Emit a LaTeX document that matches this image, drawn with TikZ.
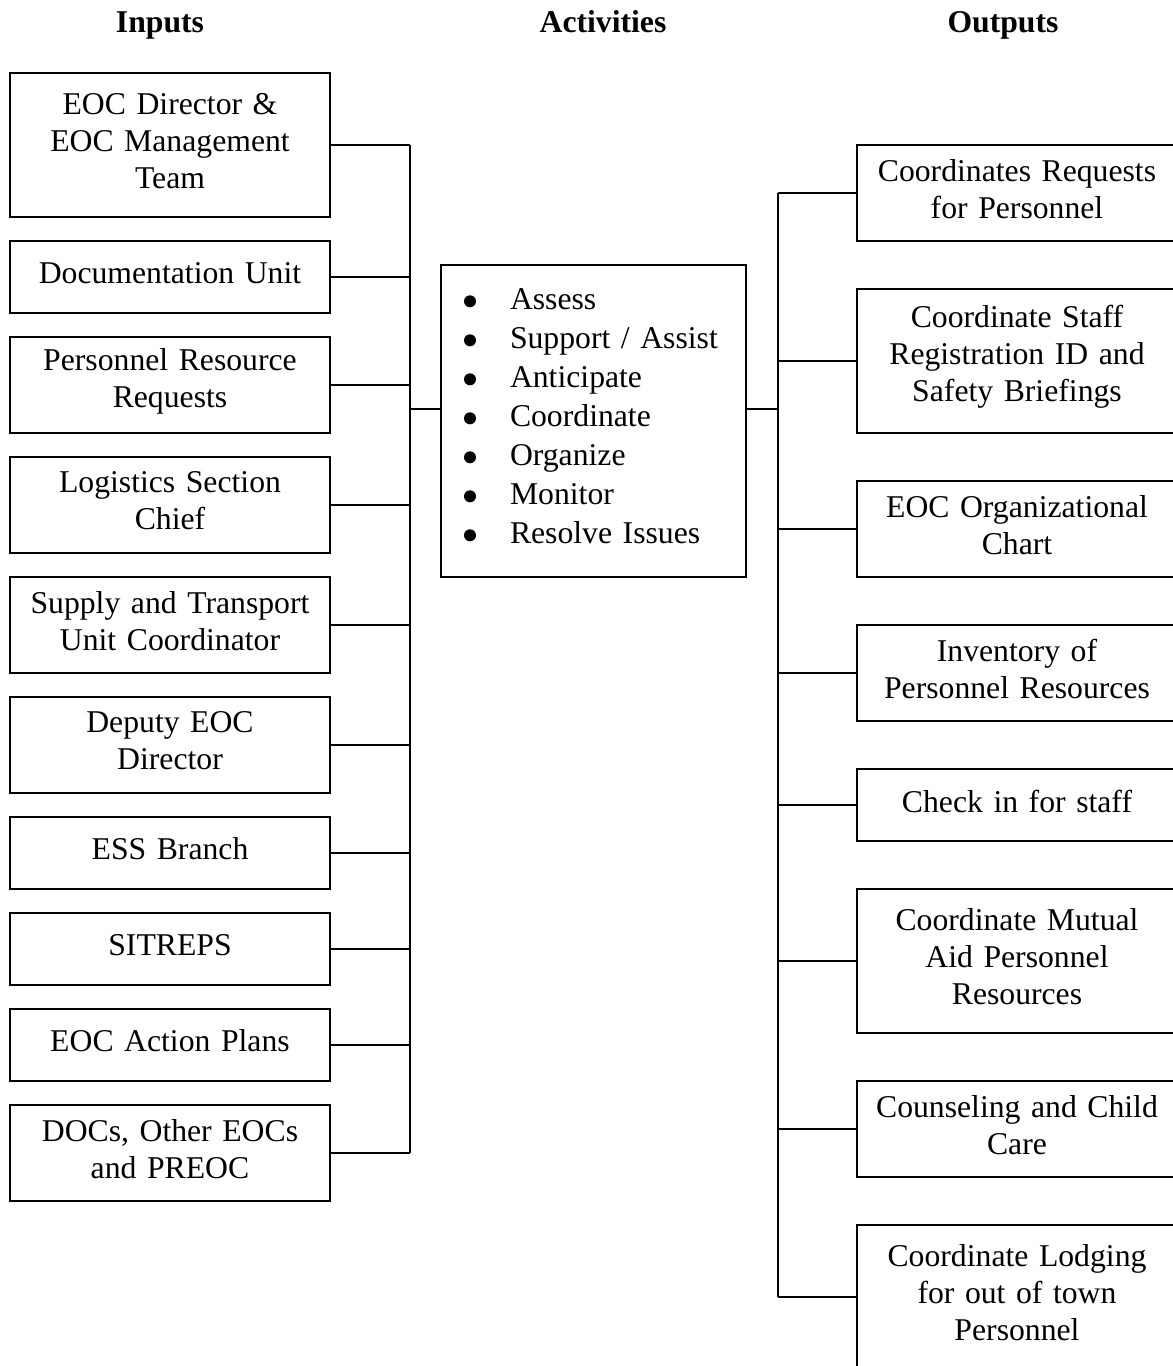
\documentclass[tikz,border=0pt]{standalone}
\usepackage{fontspec}
\setmainfont{Liberation Serif}
\newcommand\diagfont{\fontsize{31.7}{37}\selectfont}
\newcommand\diaglistfont{\fontsize{31.7}{39}\selectfont}
\newcommand\diagheadfont{\fontsize{31.7}{37}\selectfont\bfseries}
% extra space under the last line, so the text sits a little high in its box
\newcommand\boxpad{\endgraf\kern8pt}
\newcommand\listpad{\endgraf\kern10pt}
% list item: round bullet followed by the item text
\newcommand\itm[1]{\makebox[46pt][l]{\tikz[baseline=0pt]\fill (6pt,8pt) circle[radius=6pt];}#1}
\begin{document}
\begin{tikzpicture}[x=1pt,y=-1pt,
  box/.style={draw, line width=2pt, minimum width=320pt, inner sep=0pt,
    text width=314pt, align=center, font=\diagfont,
    execute at end node=\boxpad},
  actbox/.style={draw, line width=2pt, minimum width=305pt, minimum height=312pt,
    inner xsep=23pt, inner ysep=0pt, text width=259pt, align=left, font=\diaglistfont,
    execute at end node=\listpad},
  head/.style={font=\diagheadfont, anchor=base},
  link/.style={line width=2pt}]
\useasboundingbox (0,0) rectangle (1173,1366);
\clip (0,0) rectangle (1173,1366);

% column headings
\node[head] (hin)  at (160,32)  {Inputs};
\node[head] (hact) at (603,32)  {Activities};
\node[head] (hout) at (1003,32) {Outputs};

% inputs
\node[box, minimum height=144pt] (in1)  at (170,145)  {EOC Director \&\\EOC Management\\Team};
\node[box, minimum height=72pt]  (in2)  at (170,277)  {Documentation Unit};
\node[box, minimum height=96pt]  (in3)  at (170,385)  {Personnel Resource\\Requests};
\node[box, minimum height=96pt]  (in4)  at (170,505)  {Logistics Section\\Chief};
\node[box, minimum height=96pt]  (in5)  at (170,625)  {Supply and Transport\\Unit Coordinator};
\node[box, minimum height=96pt]  (in6)  at (170,745)  {Deputy EOC\\Director};
\node[box, minimum height=72pt]  (in7)  at (170,853)  {ESS Branch};
\node[box, minimum height=72pt]  (in8)  at (170,949)  {SITREPS};
\node[box, minimum height=72pt]  (in9)  at (170,1045) {EOC Action Plans};
\node[box, minimum height=96pt]  (in10) at (170,1153) {DOCs, Other EOCs\\and PREOC};

% activities
\node[actbox] (act) at (593.5,421) {\itm{Assess}\\\itm{Support / Assist}\\\itm{Anticipate}\\\itm{Coordinate}\\\itm{Organize}\\\itm{Monitor}\\\itm{Resolve Issues}};

% outputs
\node[box, minimum height=96pt]  (out1) at (1017,193)  {Coordinates Requests\\for Personnel};
\node[box, minimum height=144pt] (out2) at (1017,361)  {Coordinate Staff\\Registration ID and\\Safety Briefings};
\node[box, minimum height=96pt]  (out3) at (1017,529)  {EOC Organizational\\Chart};
\node[box, minimum height=96pt]  (out4) at (1017,673)  {Inventory of\\Personnel Resources};
\node[box, minimum height=72pt]  (out5) at (1017,805)  {Check in for staff};
\node[box, minimum height=144pt] (out6) at (1017,961)  {Coordinate Mutual\\Aid Personnel\\Resources};
\node[box, minimum height=96pt]  (out7) at (1017,1129) {Counseling and Child\\Care};
\node[box, minimum height=144pt] (out8) at (1017,1297) {Coordinate Lodging\\for out of town\\Personnel};

% bus lines
\coordinate (lbus) at (410,0);
\coordinate (rbus) at (778,0);
\coordinate (actin)  at ([yshift=12pt]act.west);
\coordinate (actout) at ([yshift=12pt]act.east);

\foreach \n in {1,...,10}
  \draw[link] (in\n.east) -- (in\n.east -| lbus);
\draw[link] (in1.east -| lbus) -- (in10.east -| lbus);
\draw[link] (actin -| lbus) -- (actin);

\draw[link] (actout) -- (actout -| rbus);
\draw[link] (out1.west -| rbus) -- (out8.west -| rbus);
\foreach \n in {1,...,8}
  \draw[link] (out\n.west -| rbus) -- (out\n.west);
\end{tikzpicture}
\end{document}
